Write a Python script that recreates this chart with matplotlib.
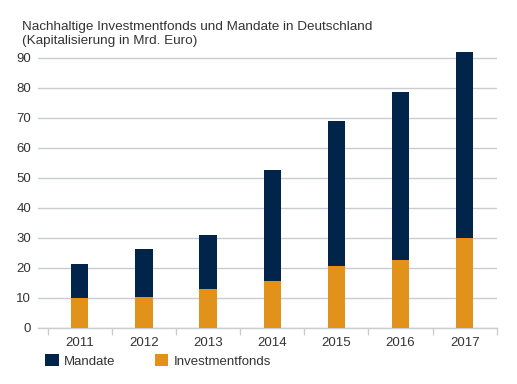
import numpy as np
import matplotlib
matplotlib.use("Agg")
import matplotlib.pyplot as plt
from matplotlib.patches import Patch

plt.rcParams["font.family"] = ["Liberation Sans", "DejaVu Sans"]

years = ["2011", "2012", "2013", "2014", "2015", "2016", "2017"]
investmentfonds = [9.8, 10.2, 12.8, 15.5, 20.7, 22.7, 29.9]
mandate = [11.6, 15.9, 18.0, 37.1, 48.2, 55.8, 62.0]

navy = "#00244a"
orange = "#e2921b"
grid_c = "#c9cdd3"
text_c = "#333333"

fig = plt.figure(figsize=(5.17, 3.84), dpi=100)
ax = fig.add_axes([0.0735, 0.1466, 0.8875, 0.7266])

x = np.arange(len(years))
ax.bar(x, investmentfonds, width=0.27, color=orange, zorder=3)
ax.bar(x, mandate, width=0.27, bottom=investmentfonds, color=navy, zorder=3)

ax.set_xlim(-0.65, 6.5)
ax.set_ylim(0, 93)
ax.set_yticks(range(0, 91, 10))
ax.yaxis.grid(True, color=grid_c, linewidth=1.0, zorder=0)
ax.set_axisbelow(True)

for s in ["top", "right", "left"]:
    ax.spines[s].set_visible(False)
ax.spines["bottom"].set_color(grid_c)
ax.spines["bottom"].set_linewidth(1.0)

ax.set_xticks(x)
ax.set_xticklabels(years)
ax.set_xticks(np.arange(-0.5, 6.6, 1), minor=True)
ax.tick_params(axis="x", which="major", length=0, pad=7, labelsize=9.5, labelcolor=text_c)
ax.tick_params(axis="x", which="minor", length=5, color=grid_c, width=1.0)
ax.tick_params(axis="y", length=0, pad=5, labelsize=9.5, labelcolor=text_c)

fig.text(0.042, 0.877, "Nachhaltige Investmentfonds und Mandate in Deutschland\n(Kapitalisierung in Mrd. Euro)",
         fontsize=9.7, color=text_c, va="bottom", ha="left", linespacing=1.25)

handles = [Patch(facecolor=navy, label="Mandate"), Patch(facecolor=orange, label="Investmentfonds")]
fig.legend(handles=handles, loc="lower left", bbox_to_anchor=(0.065, 0.012), ncol=2, frameon=False,
           fontsize=9.5, handlelength=1.0, handleheight=1.0, handletextpad=0.4, columnspacing=3.0,
           labelcolor=text_c)

fig.savefig("out.png", dpi=100)
